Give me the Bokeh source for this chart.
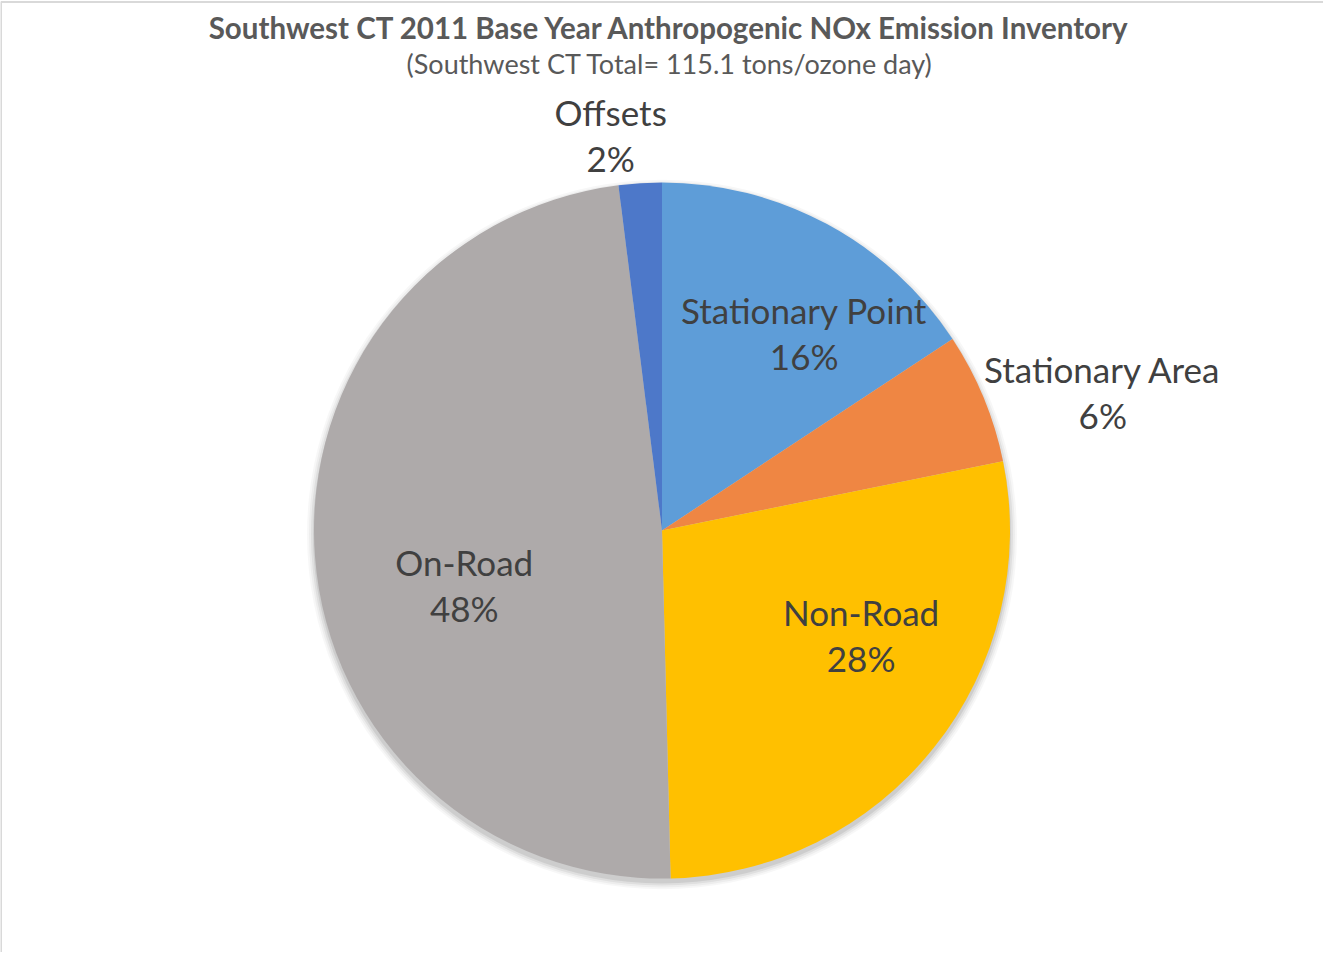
import math
from bokeh.plotting import figure
from bokeh.models import ColumnDataSource
from bokeh.core.properties import value
from bokeh.embed import file_html
from bokeh.resources import INLINE

# ---- data (tons/ozone day) ----
categories = ["Stationary Point", "Stationary Area", "Non-Road", "On-Road", "Offsets"]
tons = [18.1, 7.0, 32.0, 55.7, 2.3]
colors = ["#5e9dd8", "#ef8643", "#ffc000", "#aeaaaa", "#4d78c9"]
title_text = "Southwest CT 2011 Base Year Anthropogenic NOx Emission Inventory"
subtitle_text = "(Southwest CT Total= 115.1 tons/ozone day)"

# ---- layout ----
W, H = 1323, 952
CX, CY, R = 661.5, 422.0, 348.0
# label placement: angle shift from slice mid-angle (deg) and distance from center (px)
label_shift = [7.5, 5.0, -10.8, -11.0, -3.8]
label_dist = [243, 462, 225, 205, 399]
LINE_GAP = 23
FONT = "Lato"

total = sum(tons)
fracs = [t / total for t in tons]
cum = [0.0]
for f in fracs:
    cum.append(cum[-1] + f)

start = [math.pi / 2 - 2 * math.pi * cum[i] for i in range(len(tons))]
end = [math.pi / 2 - 2 * math.pi * cum[i + 1] for i in range(len(tons))]

src = ColumnDataSource(dict(x=[CX] * len(tons), y=[CY] * len(tons), start=start, end=end,
                            color=colors, cat=categories))

p = figure(width=W, height=H, x_range=(0, W), y_range=(0, H),
           output_backend="svg", toolbar_location=None,
           x_axis_type=None, y_axis_type=None, min_border=0)
p.grid.visible = False
p.outline_line_color = None
p.background_fill_color = "white"
p.border_fill_color = "white"

# chart-area border (top and left edges visible)
p.line(x=[0.5, 0.5, W], y=[0, H - 1.5, H - 1.5], line_color="#d9d9d9", line_width=2)

# soft shadow under the pie
for k, a in [(7, 0.03), (5, 0.04), (3, 0.06), (1, 0.08)]:
    p.circle(x=[CX], y=[CY - 4], radius=R + k, fill_color="black", fill_alpha=a,
             line_color=None)

p.wedge(x="x", y="y", radius=R, start_angle="start", end_angle="end", direction="clock",
        fill_color="color", line_color=None, source=src)

# labels
lx, ly_name, ly_pct, names, pcts = [], [], [], [], []
for i, c in enumerate(categories):
    mid = (cum[i] + cum[i + 1]) / 2 * 360 + label_shift[i]
    a = math.radians(mid)
    x = CX + label_dist[i] * math.sin(a)
    y = CY + label_dist[i] * math.cos(a)
    lx.append(x)
    ly_name.append(y + LINE_GAP)
    ly_pct.append(y - LINE_GAP)
    names.append(c)
    pcts.append(f"{round(fracs[i] * 100)}%")

p.text(x=lx + lx, y=ly_name + ly_pct, text=names + pcts, text_align="center",
       text_baseline="middle", text_font=value(FONT), text_font_size="35px",
       text_color="#404040")

# title
p.text(x=[W / 2 + 8], y=[H + 8 - 35], text=[title_text], text_align="center",
       text_baseline="middle", text_font=value(FONT), text_font_size="29.5px",
       text_font_style="bold", text_color="#595959")
p.text(x=[W / 2 + 8], y=[H + 8 - 71], text=[subtitle_text], text_align="center",
       text_baseline="middle", text_font=value(FONT), text_font_size="27px",
       text_color="#595959")

open("out.html", "w").write(file_html(p, INLINE))
